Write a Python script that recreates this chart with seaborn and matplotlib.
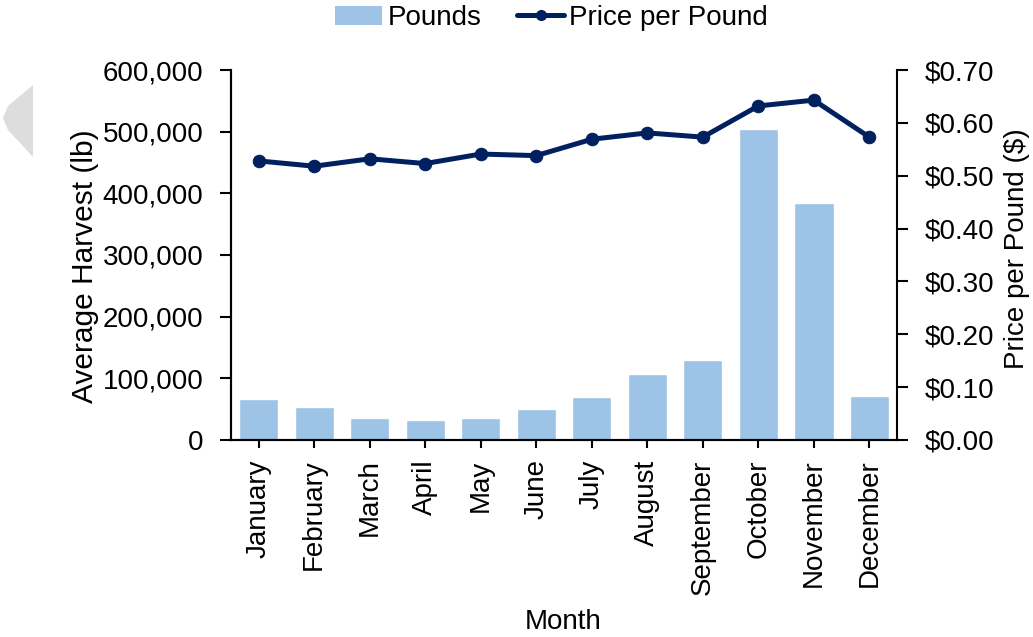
import numpy as np
import pandas as pd
import matplotlib
matplotlib.use('Agg')
import matplotlib.pyplot as plt
import seaborn as sns
from matplotlib.patches import Polygon, Patch
from matplotlib.lines import Line2D
from matplotlib.ticker import FuncFormatter

# data
months = ['January', 'February', 'March', 'April', 'May', 'June', 'July',
          'August', 'September', 'October', 'November', 'December']
pounds = [66000, 53000, 36000, 32500, 36000, 50000, 69000,
          107000, 129000, 504000, 385000, 71500]
price = [0.528, 0.518, 0.532, 0.523, 0.541, 0.538, 0.569,
         0.581, 0.573, 0.632, 0.643, 0.573]

bar_color = '#9DC3E6'
line_color = '#002060'

sns.set_style('white')
plt.rcParams['font.family'] = ['Liberation Sans', 'DejaVu Sans']
plt.rcParams['font.size'] = 20
for k in ('text.color', 'axes.labelcolor', 'xtick.color', 'ytick.color'):
    plt.rcParams[k] = 'black'

df = pd.DataFrame({'Month': months, 'Pounds': pounds, 'Price': price})

fig = plt.figure(figsize=(10.33, 6.37), dpi=100)
ax = fig.add_axes([0.2236, 0.3093, 0.8684 - 0.2236, 0.8901 - 0.3093])

sns.barplot(data=df, x='Month', y='Pounds', color=bar_color, width=0.71,
            saturation=1, ax=ax)
ax.set_xlim(-0.5, len(months) - 0.5)
ax.set_ylim(0, 600000)
ax.set_yticks(np.arange(0, 600001, 100000))
ax.yaxis.set_major_formatter(FuncFormatter(lambda v, p: f'{int(v):,}'))
ax.set_ylabel('Average Harvest (lb)', fontsize=21.5, va='center')
ax.yaxis.set_label_coords(-0.219, 0.469)
ax.set_xlabel('Month', fontsize=20, va='center')
ax.xaxis.set_label_coords(0.4985, -0.492)
ax.tick_params(axis='x', rotation=90, labelsize=20, direction='out', length=6,
               width=1.5, bottom=True, pad=8)
ax.tick_params(axis='y', labelsize=20, direction='out', length=8, width=1.5,
               left=True, pad=12)

ax2 = ax.twinx()
sns.lineplot(x=np.arange(len(months)), y=price, ax=ax2, color=line_color,
             marker='o', markersize=9, linewidth=3.6, markeredgecolor=line_color)
ax2.set_ylim(0, 0.70)
ax2.set_yticks(np.arange(0, 0.701, 0.1))
ax2.yaxis.set_major_formatter(FuncFormatter(lambda v, p: f'${v:.2f}'))
ax2.set_ylabel('Price per Pound ($)', fontsize=20, va='center')
ax2.yaxis.set_label_coords(1.180, 0.518)
ax2.tick_params(axis='y', labelsize=20, direction='out', length=8, width=1.5,
                right=True, pad=12)
ax2.set_xlim(-0.5, len(months) - 0.5)

for a in (ax, ax2):
    a.spines['top'].set_visible(False)
    for s in ('left', 'right', 'bottom'):
        a.spines[s].set_linewidth(1.5)
        a.spines[s].set_color('black')
ax.spines['right'].set_visible(False)

handles = [Patch(facecolor=bar_color, edgecolor='none'),
           Line2D([0], [0], color=line_color, linewidth=3.6, marker='o', markersize=7)]
fig.legend(handles, ['Pounds', 'Price per Pound'], loc='center',
           bbox_to_anchor=(0.534, 0.9717), ncol=2, frameon=False, fontsize=20,
           handlelength=1.7, handletextpad=0.18, columnspacing=1.3,
           borderpad=0.1)

# grey arrow tab at the left edge of the reference screenshot
W, H = 1033, 637
pts = [(33, 85), (33, 157), (8, 130), (3, 118), (8, 106)]
fig.patches.append(Polygon([(x / W, 1 - y / H) for x, y in pts], closed=True,
                           facecolor='#DDDDDD', edgecolor='none',
                           transform=fig.transFigure))

fig.savefig('out.png', dpi=100)
